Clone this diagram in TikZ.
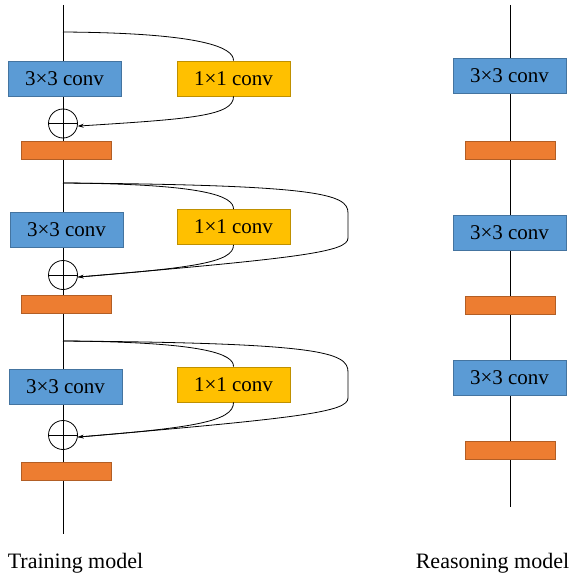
\documentclass[tikz,border=0pt]{standalone}
\usepackage{fontspec}
\setmainfont{Liberation Serif}
\usetikzlibrary{arrows.meta}
\begin{document}
\begin{tikzpicture}[x=1pt,y=-1pt,line width=0.8pt,
  conv/.style={draw=#1!75!black,line width=0.6pt,minimum width=113pt,minimum height=35pt,inner sep=0pt,font=\fontsize{21}{24}\selectfont},
  bluebox/.style={conv=convblue,fill=convblue},
  yellowbox/.style={conv=convyellow,fill=convyellow},
  bar/.style={draw=convorange!75!black,fill=convorange,line width=0.6pt,minimum width=90pt,minimum height=18pt,inner sep=0pt},
  sumnode/.style={draw,circle,minimum size=29pt,inner sep=0pt,line width=0.8pt,
    path picture={\draw[line width=0.8pt] (path picture bounding box.west) -- (path picture bounding box.east);}},
  skip/.style={line width=0.8pt},
  arr/.style={-{Stealth[length=6pt,width=4pt]},line width=0.8pt},
  lbl/.style={font=\fontsize{22}{26}\selectfont}]
\definecolor{convblue}{HTML}{5B9BD5}
\definecolor{convyellow}{HTML}{FFC000}
\definecolor{convorange}{HTML}{ED7D31}
\useasboundingbox (0,0) rectangle (568,578);

% main lines
\coordinate (top) at (63,5);
\coordinate (bot) at (63,534);
\coordinate (rtop) at (510,5);
\coordinate (rbot) at (510,507);
\draw (top) -- (bot);
\draw (rtop) -- (rbot);

% branch points
\coordinate (c1) at (63,32);
\coordinate (c2) at (63,183);
\coordinate (c3) at (63,341);

% left column blocks
\node[bluebox] (b1) at (64.5,78.5) {3×3 conv};
\node[yellowbox] (y1) at (233.5,78.5) {1×1 conv};
\node[sumnode] (s1) at (63,123.5) {};
\node[bar] (o1) at (66,150) {};

\node[bluebox] (b2) at (66.5,229.5) {3×3 conv};
\node[yellowbox] (y2) at (233.5,227) {1×1 conv};
\node[sumnode] (s2) at (63,275) {};
\node[bar] (o2) at (66,304.5) {};

\node[bluebox] (b3) at (65.5,387) {3×3 conv};
\node[yellowbox] (y3) at (233.5,384.5) {1×1 conv};
\node[sumnode] (s3) at (63,435) {};
\node[bar] (o3) at (66,471) {};

% skip 1
\draw[skip] (c1) .. controls (205,33) and (234,48) .. (y1.north);
\draw[arr] (y1.south) .. controls (234,116) and (190,119) .. (s1.-10);

% skip 2
\coordinate (l2a) at (348,213);
\coordinate (l2b) at (348,238);
\draw[skip] (c2) .. controls (205,184) and (234,196) .. (y2.north);
\draw[skip] (y2.south) .. controls (234,263) and (190,268) .. (s2.-8);
\draw[skip] (c2) .. controls (320,185) and (348,194) .. (l2a) -- (l2b);
\draw[arr] (l2b) .. controls (348,252) and (300,258) .. (s2.-8);

% skip 3
\coordinate (l3a) at (348,372);
\coordinate (l3b) at (348,398);
\draw[skip] (c3) .. controls (205,342) and (234,354) .. (y3.north);
\draw[skip] (y3.south) .. controls (234,422) and (190,428) .. (s3.-8);
\draw[skip] (c3) .. controls (320,343) and (348,352) .. (l3a) -- (l3b);
\draw[arr] (l3b) .. controls (348,412) and (300,418) .. (s3.-8);

% right column
\node[bluebox] (rb1) at (509.5,75.5) {3×3 conv};
\node[bar] (ro1) at (510,150) {};
\node[bluebox] (rb2) at (509.5,232.5) {3×3 conv};
\node[bar] (ro2) at (510,305) {};
\node[bluebox] (rb3) at (509.5,377.5) {3×3 conv};
\node[bar] (ro3) at (510,450) {};

% labels
\node[lbl] (tl) at (75.5,563) {Training model};
\node[lbl] (rl) at (492.5,563) {Reasoning model};
\end{tikzpicture}
\end{document}
